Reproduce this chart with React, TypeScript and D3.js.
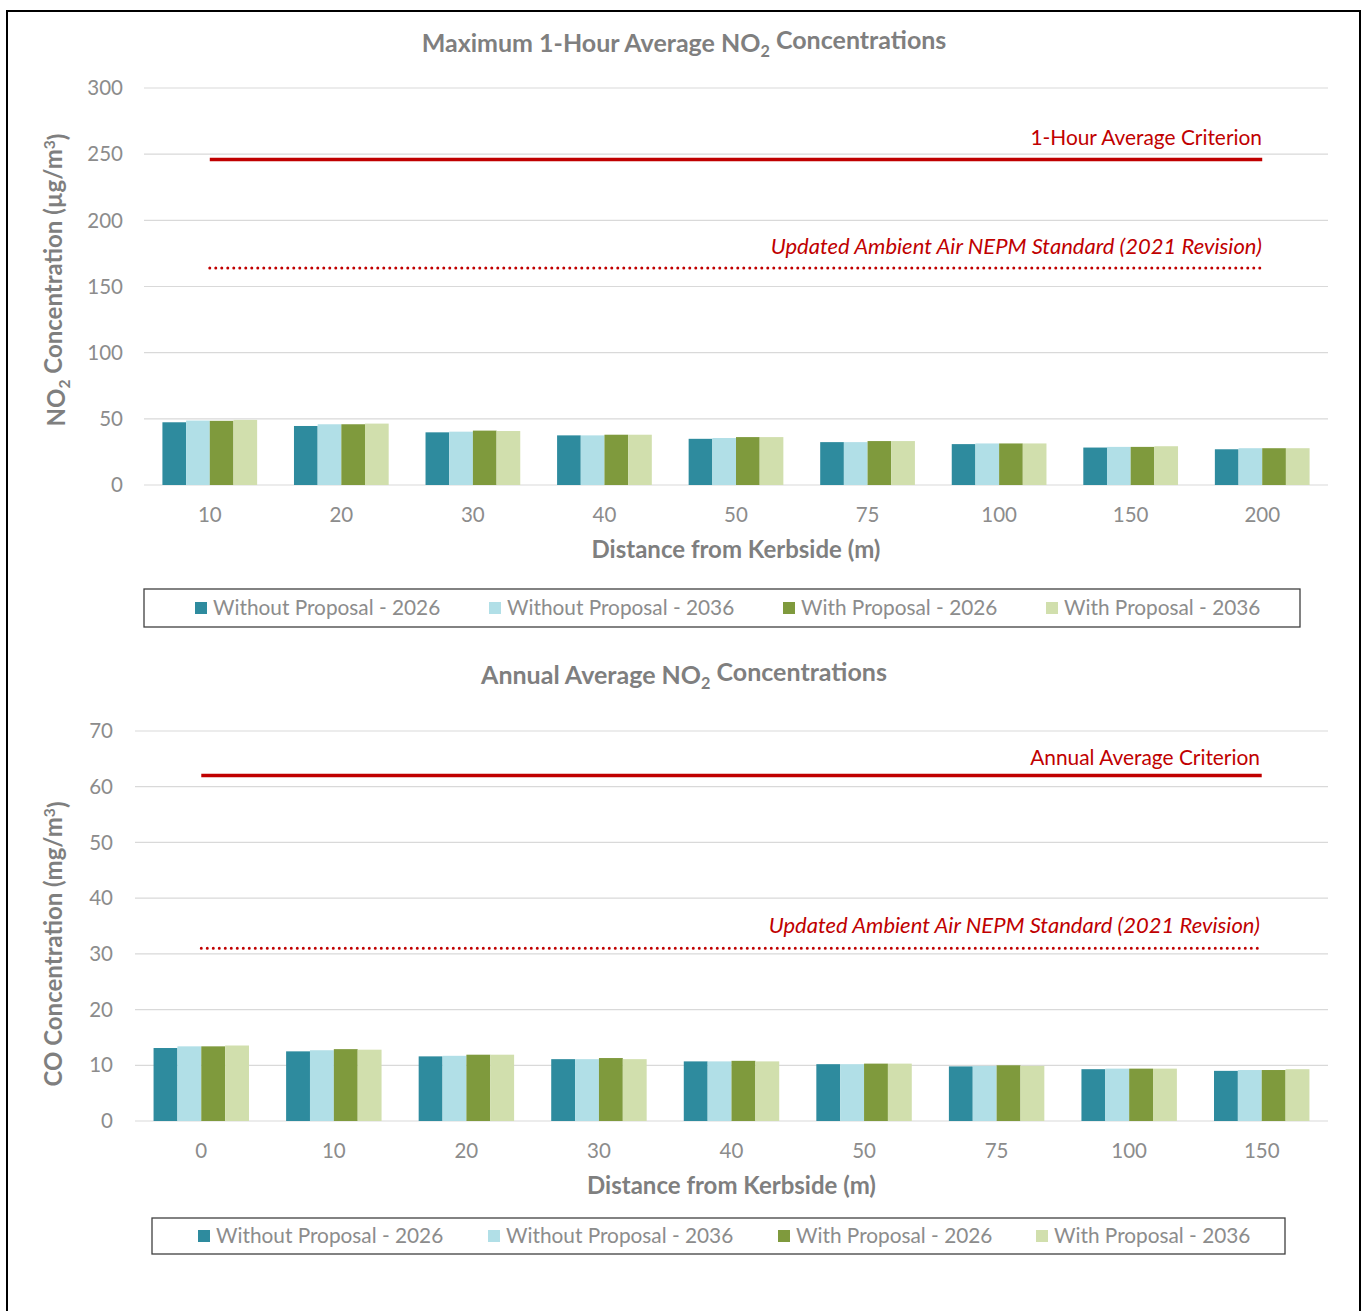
import React from "react";
import * as d3 from "d3";

// Series shared by both panels
const seriesNames = [
  "Without Proposal - 2026",
  "Without Proposal - 2036",
  "With Proposal - 2026",
  "With Proposal - 2036",
];
const seriesColors = ["#2E8B9E", "#B1DFE7", "#7F9A3D", "#D1DFAD"];

// Maximum 1-hour average NO2 (µg/m³)
const hourCategories = ["10", "20", "30", "40", "50", "75", "100", "150", "200"];
const hourWithout2026 = [47.4, 44.6, 39.8, 37.5, 34.9, 32.4, 30.9, 28.3, 27.0];
const hourWithout2036 = [48.7, 45.9, 40.3, 37.5, 35.5, 32.4, 31.4, 28.8, 27.8];
const hourWith2026 = [48.5, 45.9, 41.1, 38.0, 36.2, 33.2, 31.4, 28.8, 27.8];
const hourWith2036 = [49.2, 46.4, 40.8, 38.0, 36.2, 33.2, 31.4, 29.3, 27.8];
const hourTicks = [0, 50, 100, 150, 200, 250, 300];
const hourCriterion = 246;
const hourNepm = 164;

// Annual average NO2
const annualCategories = ["0", "10", "20", "30", "40", "50", "75", "100", "150"];
const annualWithout2026 = [13.1, 12.5, 11.6, 11.1, 10.7, 10.2, 9.8, 9.3, 9.0];
const annualWithout2036 = [13.4, 12.7, 11.7, 11.1, 10.7, 10.2, 9.9, 9.4, 9.15];
const annualWith2026 = [13.4, 12.9, 11.9, 11.3, 10.8, 10.3, 10.0, 9.4, 9.15];
const annualWith2036 = [13.55, 12.8, 11.9, 11.1, 10.7, 10.3, 9.9, 9.4, 9.3];
const annualTicks = [0, 10, 20, 30, 40, 50, 60, 70];
const annualCriterion = 62;
const annualNepm = 31;

const FONT = "Lato, 'Open Sans', sans-serif";
const GRAY = "#8C8C8C";
const TITLE_GRAY = "#7F7F7F";
const RED = "#C00000";

const TICK_SIZE = 20.5;
const LEGEND_SIZE = 20.8;
const AXIS_TITLE_SIZE = 24;
const MAIN_TITLE_SIZE = 25;

type PanelProps = {
  categories: string[];
  series: number[][];
  ticks: number[];
  yMax: number;
  x0: number;
  x1: number;
  yTop: number;
  yBottom: number;
  tickX: number;
  criterion: number;
  criterionLabel: string;
  nepm: number;
  yTitleX: number;
  yTitleCenter: number;
  yTitleParts: React.ReactNode;
  xLabelY: number;
  xTitleY: number;
  critLabelX: number;
  critLabelDy: number;
  nepmLabelDy: number;
  legend: { left: number; right: number; top: number; bottom: number; xs: number[] };
};

function Panel(p: PanelProps) {
  const x = d3
    .scaleBand<string>()
    .domain(p.categories)
    .range([p.x0, p.x1])
    .paddingInner(0.28)
    .paddingOuter(0.14);
  const xs = d3
    .scaleBand<number>()
    .domain(d3.range(p.series.length))
    .range([0, x.bandwidth()]);
  const y = d3.scaleLinear().domain([0, p.yMax]).range([p.yBottom, p.yTop]);

  const lineStart = (x(p.categories[0]) ?? 0) + x.bandwidth() / 2;
  const lineEnd = (x(p.categories[p.categories.length - 1]) ?? 0) + x.bandwidth() / 2;
  const midX = (p.x0 + p.x1) / 2;

  return (
    <g fontFamily={FONT}>
      {/* gridlines and y tick labels */}
      {p.ticks.map((t) => (
        <g key={t}>
          <line x1={p.x0} x2={p.x1} y1={y(t)} y2={y(t)} stroke="#D9D9D9" strokeWidth={1.2} />
          <text x={p.tickX} y={y(t)} dy="0.35em" textAnchor="end" fontSize={TICK_SIZE} fill={GRAY}>
            {t}
          </text>
        </g>
      ))}

      {/* bars */}
      {p.categories.map((c, i) => (
        <g key={c} transform={`translate(${x(c)},0)`}>
          {p.series.map((s, j) => (
            <rect
              key={j}
              x={xs(j)}
              y={y(s[i])}
              width={xs.bandwidth()}
              height={y(0) - y(s[i])}
              fill={seriesColors[j]}
            />
          ))}
        </g>
      ))}

      {/* x tick labels */}
      {p.categories.map((c) => (
        <text
          key={c}
          x={(x(c) ?? 0) + x.bandwidth() / 2}
          y={p.xLabelY}
          textAnchor="middle"
          fontSize={TICK_SIZE}
          fill={GRAY}
        >
          {c}
        </text>
      ))}

      {/* criterion lines */}
      <line x1={lineStart} x2={lineEnd} y1={y(p.criterion)} y2={y(p.criterion)} stroke={RED} strokeWidth={3.5} />
      <text x={p.critLabelX} y={y(p.criterion) + p.critLabelDy} textAnchor="end" fontSize={20.9} fill={RED}>
        {p.criterionLabel}
      </text>
      <line
        x1={lineStart}
        x2={lineEnd}
        y1={y(p.nepm)}
        y2={y(p.nepm)}
        stroke={RED}
        strokeWidth={3}
        strokeLinecap="round"
        strokeDasharray="0 6"
      />
      <text
        x={p.critLabelX}
        y={y(p.nepm) + p.nepmLabelDy}
        textAnchor="end"
        fontSize={22}
        fontStyle="italic"
        fill={RED}
      >
        Updated Ambient Air NEPM Standard (2021 Revision)
      </text>

      {/* axis titles */}
      <text x={midX} y={p.xTitleY} textAnchor="middle" fontSize={AXIS_TITLE_SIZE} fontWeight={700} fill={TITLE_GRAY}>
        Distance from Kerbside (m)
      </text>
      <text
        transform={`translate(${p.yTitleX},${p.yTitleCenter}) rotate(-90)`}
        textAnchor="middle"
        fontSize={AXIS_TITLE_SIZE}
        fontWeight={700}
        fill={TITLE_GRAY}
      >
        {p.yTitleParts}
      </text>

      {/* legend */}
      <rect
        x={p.legend.left}
        y={p.legend.top}
        width={p.legend.right - p.legend.left}
        height={p.legend.bottom - p.legend.top}
        fill="white"
        stroke="#404040"
        strokeWidth={1.3}
      />
      {seriesNames.map((n, j) => {
        const cy = (p.legend.top + p.legend.bottom) / 2;
        return (
          <g key={n}>
            <rect x={p.legend.xs[j]} y={cy - 6} width={12} height={12} fill={seriesColors[j]} />
            <text x={p.legend.xs[j] + 18} y={cy} dy="0.35em" fontSize={LEGEND_SIZE} fill={GRAY}>
              {n}
            </text>
          </g>
        );
      })}
    </g>
  );
}

function Sub({ children }: { children: React.ReactNode }) {
  return (
    <tspan fontSize="0.65em" dy="0.3em">
      {children}
    </tspan>
  );
}

export default function App() {
  const W = 1365;
  const H = 1311;
  return (
    <svg
      width={W}
      height={H}
      style={{ position: "absolute", left: 0, top: 0, background: "white" }}
    >
      <rect x={0} y={0} width={W} height={H} fill="white" />
      <rect x={7} y={11} width={1353} height={1320} fill="none" stroke="#000" strokeWidth={2} />

      <Panel
        categories={hourCategories}
        series={[hourWithout2026, hourWithout2036, hourWith2026, hourWith2036]}
        ticks={hourTicks}
        yMax={300}
        x0={144}
        x1={1328}
        yTop={88}
        yBottom={485}
        tickX={123}
        criterion={hourCriterion}
        criterionLabel="1-Hour Average Criterion"
        nepm={hourNepm}
        yTitleX={65}
        yTitleCenter={280}
        yTitleParts={
          <>
            NO<Sub>2</Sub>
            <tspan dy="-0.3em"> Concentration (µg/m</tspan>
            <tspan fontSize="0.65em" dy="-0.45em">3</tspan>
            <tspan dy="0.45em">)</tspan>
          </>
        }
        xLabelY={522}
        xTitleY={558}
        critLabelX={1262}
        critLabelDy={-14}
        nepmLabelDy={-14}
        legend={{ left: 144, right: 1300, top: 589, bottom: 627, xs: [195, 489, 783, 1046] }}
      />
      <text x={684} y={52} textAnchor="middle" fontSize={MAIN_TITLE_SIZE} fontWeight={700} fill={TITLE_GRAY} fontFamily={FONT}>
        Maximum 1-Hour Average NO<Sub>2</Sub>
        <tspan dy="-0.3em"> Concentrations</tspan>
      </text>

      <Panel
        categories={annualCategories}
        series={[annualWithout2026, annualWithout2036, annualWith2026, annualWith2036]}
        ticks={annualTicks}
        yMax={70}
        x0={135}
        x1={1328}
        yTop={731}
        yBottom={1121}
        tickX={113}
        criterion={annualCriterion}
        criterionLabel="Annual Average Criterion"
        nepm={annualNepm}
        yTitleX={62}
        yTitleCenter={944}
        yTitleParts={
          <>
            CO Concentration (mg/m
            <tspan fontSize="0.65em" dy="-0.45em">3</tspan>
            <tspan dy="0.45em">)</tspan>
          </>
        }
        xLabelY={1158}
        xTitleY={1194}
        critLabelX={1260}
        critLabelDy={-11}
        nepmLabelDy={-15}
        legend={{ left: 152, right: 1285, top: 1218, bottom: 1254, xs: [198, 488, 778, 1036] }}
      />
      <text x={684} y={684} textAnchor="middle" fontSize={MAIN_TITLE_SIZE} fontWeight={700} fill={TITLE_GRAY} fontFamily={FONT}>
        Annual Average NO<Sub>2</Sub>
        <tspan dy="-0.3em"> Concentrations</tspan>
      </text>
    </svg>
  );
}
